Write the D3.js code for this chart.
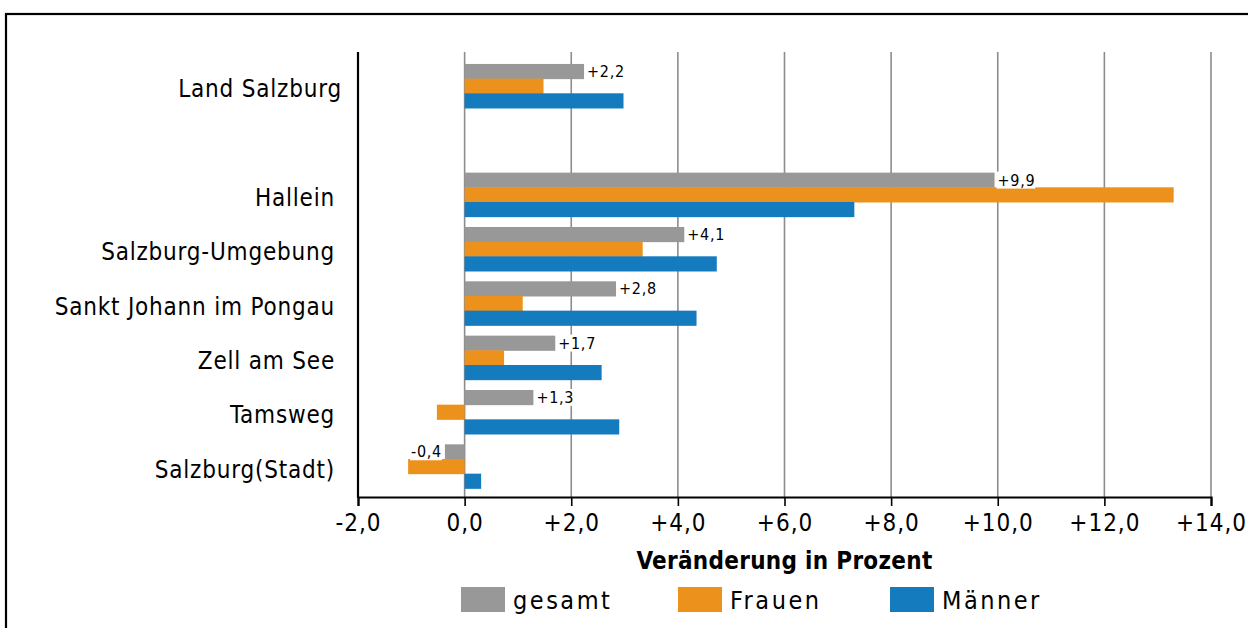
<!DOCTYPE html>
<html>
<head>
<meta charset="utf-8">
<script src="https://cdn.jsdelivr.net/npm/d3@7"></script>
<style>
  body { margin: 0; background: #fff; }
  text { font-family: "DejaVu Sans Condensed", "DejaVu Sans", sans-serif; font-stretch: condensed; }
</style>
</head>
<body>
<div id="chart"></div>
<script>
// Bezirke (leere Zeile als Abstand nach dem Land)
var categories = ["Land Salzburg", "", "Hallein", "Salzburg-Umgebung", "Sankt Johann im Pongau", "Zell am See", "Tamsweg", "Salzburg(Stadt)"];
var seriesNames = ["gesamt", "Frauen", "Männer"];
var gesamt = [2.24, null, 9.94, 4.12, 2.84, 1.70, 1.29, -0.37];
var frauen = [1.48, null, 13.3, 3.34, 1.09, 0.74, -0.52, -1.06];
var maenner = [2.98, null, 7.31, 4.73, 4.35, 2.57, 2.90, 0.31];
var xTicks = [-2, 0, 2, 4, 6, 8, 10, 12, 14];
var colors = ["#989898", "#ec921c", "#157bbf"];

var width = 1248, height = 628;

var svg = d3.select('#chart')
    .append('svg')
    .attr('width', width)
    .attr('height', height);

// Rahmen
svg.append('rect')
    .attr('x', 6).attr('y', 14)
    .attr('width', 1300).attr('height', 700)
    .attr('fill', 'none')
    .attr('stroke', '#000')
    .attr('stroke-width', 2.2);

var x = d3.scaleLinear().domain([-2, 14]).range([358, 1211]);
var y = d3.scaleBand().domain(categories)
    .range([58.8, 493.5])
    .paddingInner(0.19)
    .paddingOuter(0.095);
var ySub = d3.scaleBand().domain(seriesNames).range([0, y.bandwidth()]);

var plotTop = 52, plotBottom = 497;

var fmt = function(d) {
    var s = Math.abs(d).toFixed(1).replace('.', ',');
    if (d > 0) return '+' + s;
    if (d < 0) return '-' + s;
    return s;
};

// Gitterlinien
svg.append('g').selectAll('line')
    .data(xTicks.filter(function(d){ return d > -2; }))
    .enter().append('line')
    .attr('x1', function(d){ return x(d); })
    .attr('x2', function(d){ return x(d); })
    .attr('y1', plotTop).attr('y2', plotBottom)
    .attr('stroke', '#8c8c8c')
    .attr('stroke-width', 1.6);

// Balken
var rows = categories.map(function(c, i) {
    return { cat: c, values: [gesamt[i], frauen[i], maenner[i]] };
}).filter(function(r){ return r.cat !== ""; });

var groups = svg.append('g').selectAll('g')
    .data(rows)
    .enter().append('g')
    .attr('transform', function(d){ return 'translate(0,' + y(d.cat) + ')'; });

groups.selectAll('rect')
    .data(function(d){ return d.values.map(function(v, j){ return { v: v, s: seriesNames[j], j: j }; }); })
    .enter().append('rect')
    .attr('x', function(d){ return x(Math.min(0, d.v)); })
    .attr('width', function(d){ return Math.abs(x(d.v) - x(0)); })
    .attr('y', function(d){ return ySub(d.s); })
    .attr('height', ySub.bandwidth() + 0.5)
    .attr('fill', function(d){ return colors[d.j]; });

// Werte für gesamt
var labels = groups.append('g')
    .attr('transform', function(d){
        var v = d.values[0];
        var px = v >= 0 ? x(v) + 1 : x(v) - 1;
        return 'translate(' + px + ',' + (ySub('gesamt') + ySub.bandwidth() / 2) + ')';
    });

labels.append('text')
    .attr('x', function(d){ return d.values[0] >= 0 ? 2 : -2; })
    .attr('dy', '0.35em')
    .attr('text-anchor', function(d){ return d.values[0] >= 0 ? 'start' : 'end'; })
    .style('font-size', '16px')
    .style('letter-spacing', '0.7px')
    .attr('fill', '#000')
    .text(function(d){ return fmt(d.values[0]); });

labels.each(function() {
    var g = d3.select(this);
    var bb = g.select('text').node().getBBox();
    g.insert('rect', 'text')
        .attr('x', bb.x - 1).attr('y', bb.y + 1)
        .attr('width', bb.width + 1).attr('height', bb.height - 2)
        .attr('fill', '#fff');
});

// x-Achse
var xAxis = d3.axisBottom(x)
    .tickValues(xTicks)
    .tickSize(9)
    .tickFormat(fmt);

var gx = svg.append('g')
    .attr('transform', 'translate(0,' + plotBottom + ')')
    .call(xAxis);
gx.select('.domain').attr('stroke', '#000').attr('stroke-width', 2.2);
gx.selectAll('.tick line').attr('stroke', '#000').attr('stroke-width', 1.6);
gx.selectAll('.tick text')
    .attr('y', 17)
    .style('font-size', '24px')
    .style('letter-spacing', '1px')
    .attr('fill', '#000');

// y-Achse
svg.append('line')
    .attr('x1', x(-2)).attr('x2', x(-2))
    .attr('y1', plotTop).attr('y2', plotBottom + 1)
    .attr('stroke', '#000')
    .attr('stroke-width', 2.2);

svg.append('g').selectAll('text')
    .data(rows)
    .enter().append('text')
    .attr('x', function(d, i){ return i === 0 ? 342 : 335; })
    .attr('y', function(d){ return y(d.cat) + y.bandwidth() / 2 + 3; })
    .attr('dy', '0.35em')
    .attr('text-anchor', 'end')
    .style('font-size', '24px')
    .style('letter-spacing', '0.8px')
    .attr('fill', '#000')
    .text(function(d){ return d.cat; });

// Achsentitel
svg.append('text')
    .attr('x', x(6))
    .attr('y', 569)
    .attr('text-anchor', 'middle')
    .style('font-size', '24px')
    .style('font-weight', 'bold')
    .style('letter-spacing', '0.3px')
    .text('Veränderung in Prozent');

// Legende
var legendX = [461, 678, 890];
var legend = svg.append('g').selectAll('g')
    .data(seriesNames)
    .enter().append('g')
    .attr('transform', function(d, i){ return 'translate(' + legendX[i] + ',587)'; });

legend.append('rect')
    .attr('width', 44).attr('height', 25)
    .attr('fill', function(d, i){ return colors[i]; });

legend.append('text')
    .attr('x', 52).attr('y', 13)
    .attr('dy', '0.35em')
    .style('font-size', '25px')
    .style('letter-spacing', '2.5px')
    .text(function(d){ return d; });
</script>
</body>
</html>
